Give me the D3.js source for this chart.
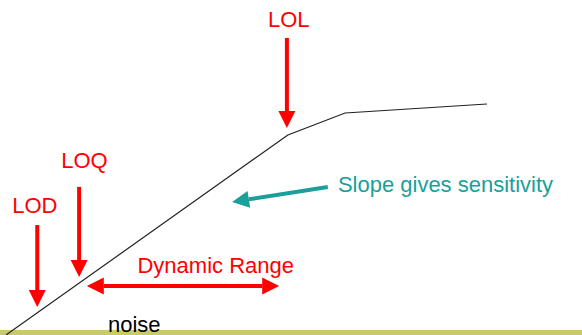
<!DOCTYPE html>
<html>
<head>
<meta charset="utf-8">
<script src="https://cdn.jsdelivr.net/npm/d3@7"></script>
<style>
  body { margin: 0; background: #fff; }
  text { font-family: "Liberation Sans", Arial, sans-serif; }
</style>
</head>
<body>
<div class="chart"></div>
<script>
// calibration curve: concentration vs response (arbitrary units)
const curveX = [0, 58.6, 70.5, 100];
const curveY = [0, 86.6, 96.1, 100];

// annotation arrows in data units, tip at arrowTip
const arrowNames = ["LOL", "LOQ", "LOD", "slope"];
const arrowStart = [[58.4, 128.6], [15.2, 64.1], [6.5, 47.6], [66.9, 64.1]];
const arrowTip = [[58.4, 89.6], [15.2, 25.1], [6.5, 12.1], [47.0, 57.6]];

// dynamic range double arrow
const rangeFrom = [16.8, 21.2];
const rangeTo = [56.8, 21.2];

// labels
const labelText = ["LOL", "LOQ", "LOD", "Dynamic Range", "Slope gives sensitivity", "noise"];
const labelPos = [[58.8, 133.3], [16.3, 72.3], [6.0, 52.8], [43.6, 26.8], [69.0, 61.9], [21.2, 1.3]];

const width = 582, height = 335;

let svg = d3.select(".chart").append("svg")
    .attr("width", width)
    .attr("height", height);

let xScale = d3.scaleLinear().domain([0, 100]).range([6, 487]);
let yScale = d3.scaleLinear().domain([0, 100]).range([335, 104]);

const red = "#ff0000", teal = "#1a9f9a";

// noise band
svg.append("rect")
    .attr("x", 0)
    .attr("y", yScale(2.2))
    .attr("width", width)
    .attr("height", height - yScale(2.2))
    .attr("fill", "#c8cb66");

// the curve
let line = d3.line()
    .x(d => xScale(d[0]))
    .y(d => yScale(d[1]));

svg.append("path")
    .datum(d3.zip(curveX, curveY))
    .attr("d", line)
    .attr("fill", "none")
    .attr("stroke", "#222")
    .attr("stroke-width", 1.2);

// arrow helper, pixel coordinates
function arrow(x1, y1, x2, y2, color, heads) {
    let dx = x2 - x1, dy = y2 - y1;
    let len = Math.sqrt(dx * dx + dy * dy);
    let ux = dx / len, uy = dy / len;
    let px = -uy, py = ux;
    let hl = 17, hw = 8.5;
    let sx1 = x1, sy1 = y1;
    if (heads == 2) { sx1 = x1 + ux * hl; sy1 = y1 + uy * hl; }
    svg.append("line")
        .attr("x1", sx1).attr("y1", sy1)
        .attr("x2", x2 - ux * hl).attr("y2", y2 - uy * hl)
        .attr("stroke", color)
        .attr("stroke-width", 4);
    let head = (tx, ty, vx, vy) => {
        let bx = tx - vx * hl, by = ty - vy * hl;
        svg.append("polygon")
            .attr("points", [[tx, ty], [bx + px * hw, by + py * hw], [bx - px * hw, by - py * hw]].map(p => p.join(",")).join(" "))
            .attr("fill", color);
    };
    head(x2, y2, ux, uy);
    if (heads == 2) head(x1, y1, -ux, -uy);
}

arrowNames.forEach((n, i) => {
    arrow(xScale(arrowStart[i][0]), yScale(arrowStart[i][1]),
        xScale(arrowTip[i][0]), yScale(arrowTip[i][1]),
        n == "slope" ? teal : red, 1);
});

arrow(xScale(rangeFrom[0]), yScale(rangeFrom[1]), xScale(rangeTo[0]), yScale(rangeTo[1]), red, 2);

// labels
labelText.forEach((t, i) => {
    let colr = red, anchor = "middle";
    if (t == "Slope gives sensitivity") { colr = teal; anchor = "start"; }
    if (t == "noise") { colr = "#000"; anchor = "start"; }
    svg.append("text")
        .attr("x", xScale(labelPos[i][0]))
        .attr("y", yScale(labelPos[i][1]))
        .attr("text-anchor", anchor)
        .attr("font-size", 22)
        .attr("fill", colr)
        .text(t);
});
</script>
</body>
</html>
